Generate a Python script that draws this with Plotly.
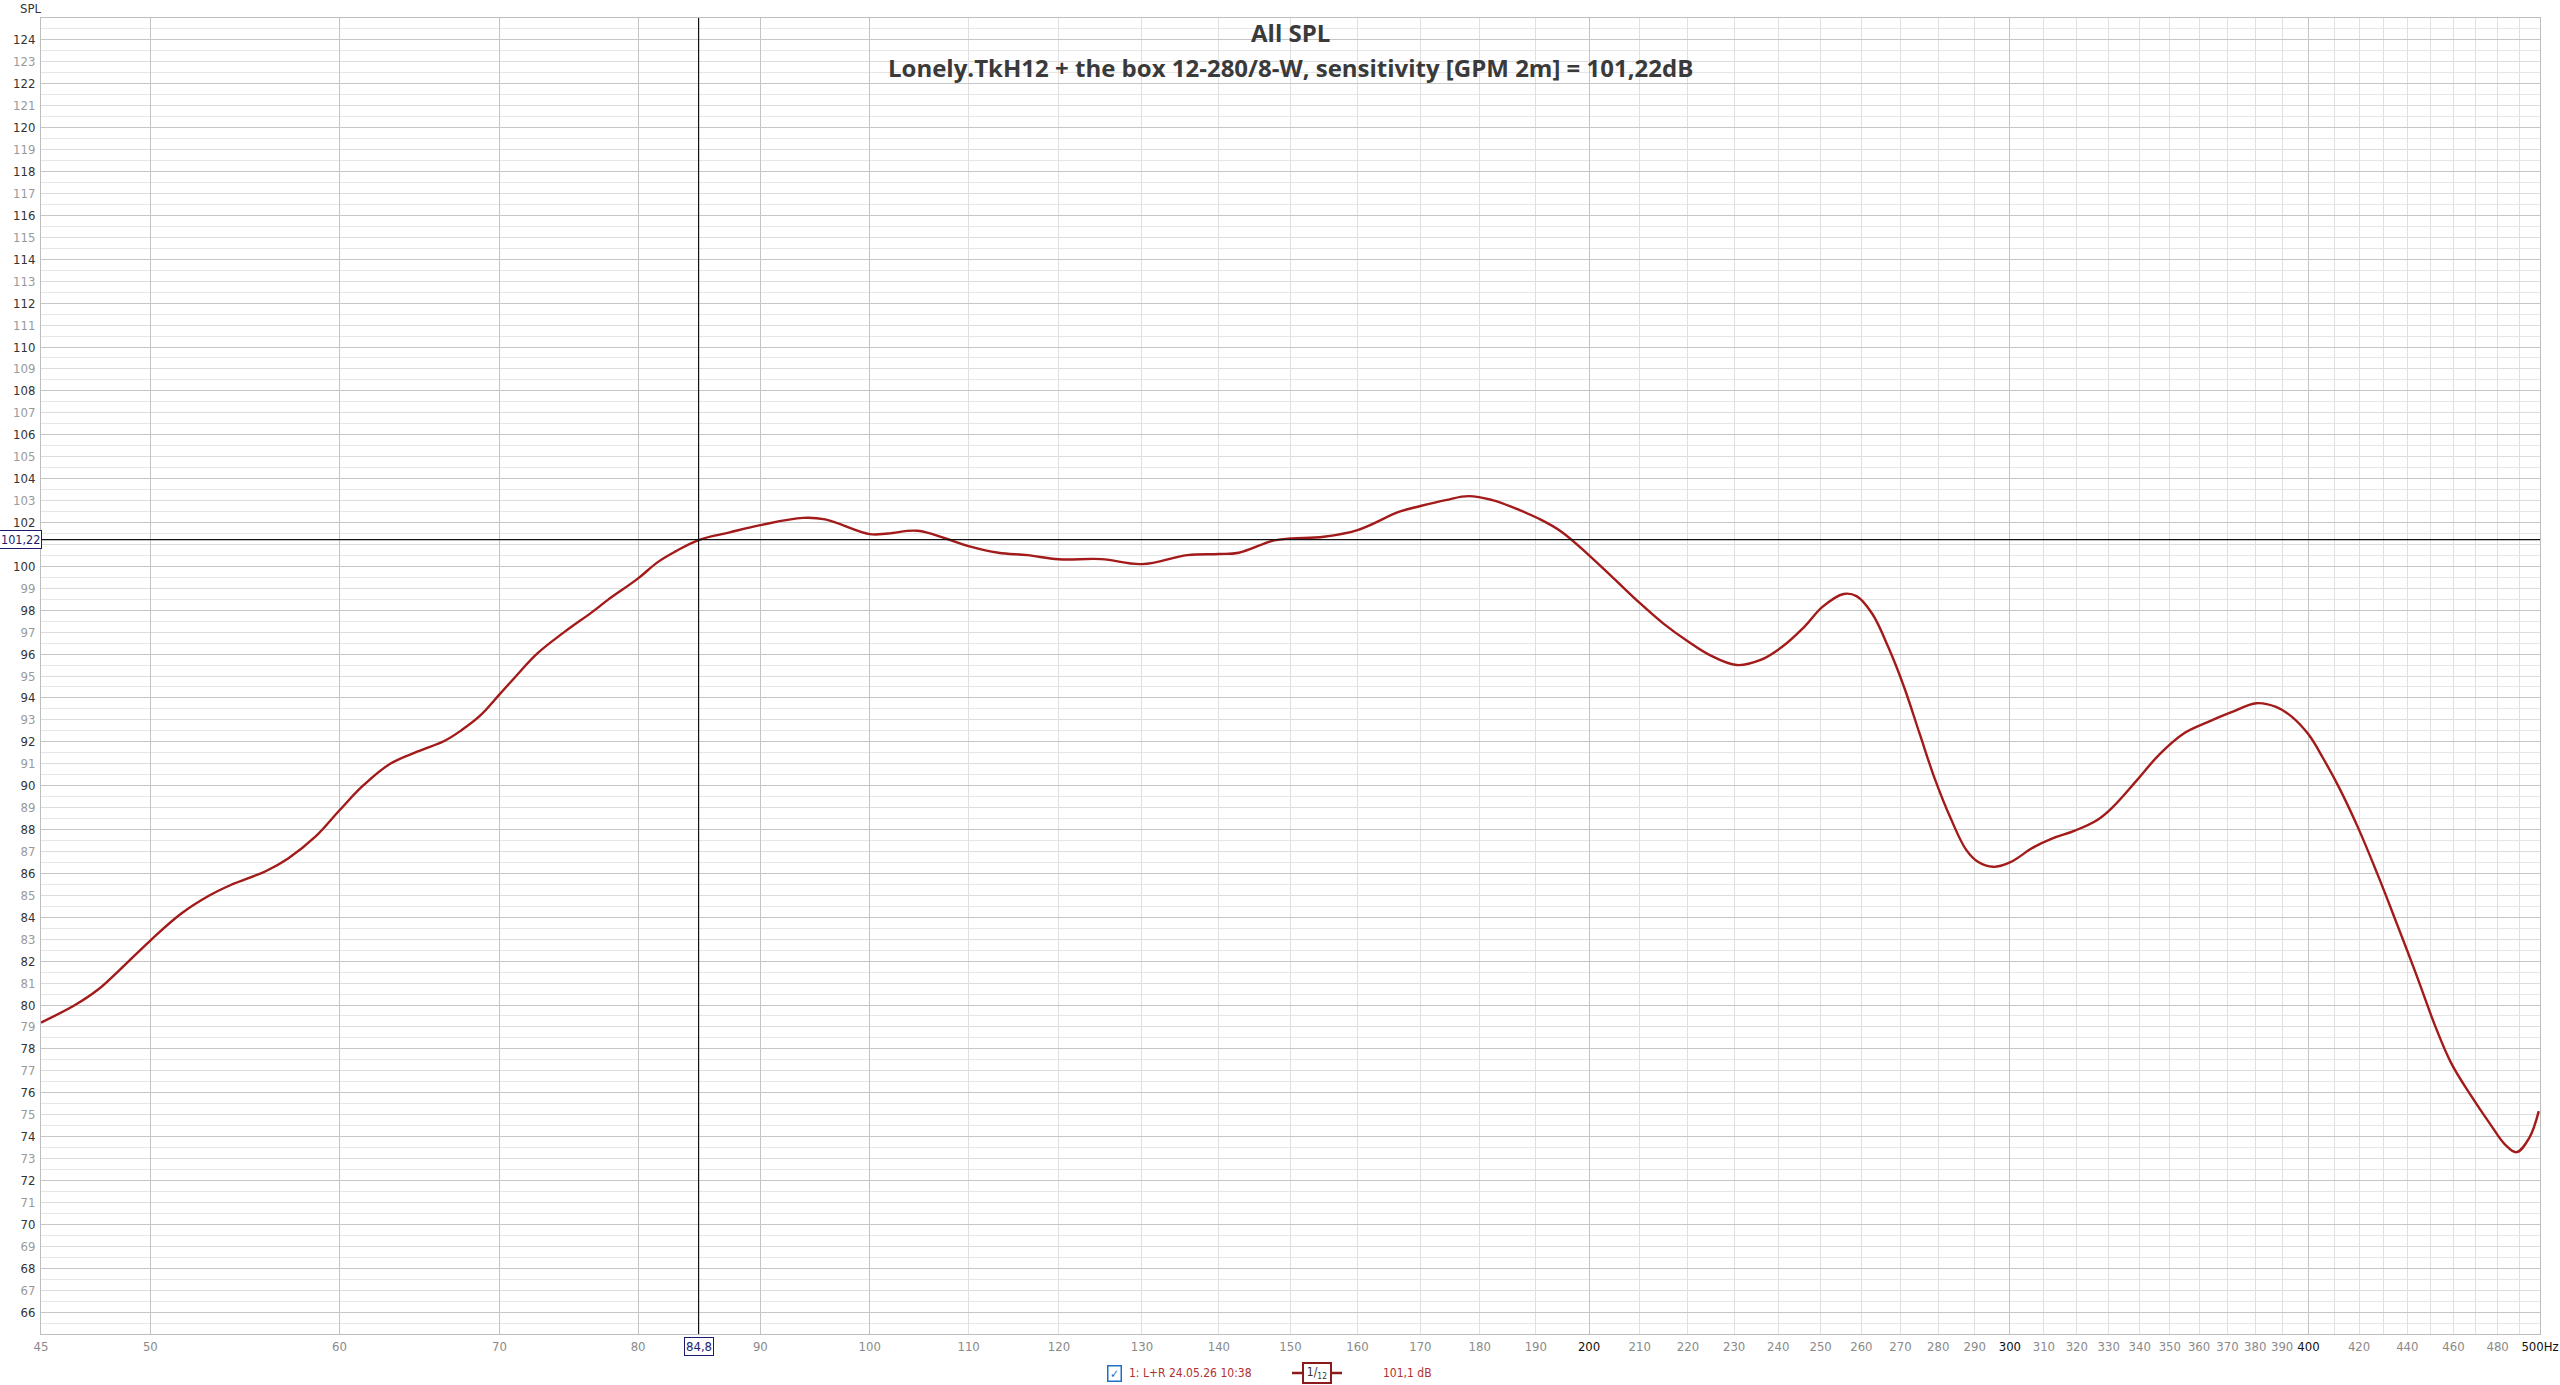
import numpy as np
import plotly.graph_objects as go

# ---------------- data ----------------
freq_hz = [45, 46.5, 47.5, 48.5, 50, 51.5, 52.9, 54.0, 55.9, 57.1, 58.6, 60, 61.4, 63.0, 64.7,
           66.4, 67.5, 68.7, 70, 71.1, 72.6, 74.5, 76.5, 77.7, 80, 81.5, 82.9, 84.8, 87.3, 90,
           93.8, 95.8, 100, 101.8, 104.7, 107.6, 110, 113.2, 116.4, 120, 125, 130, 135.8, 140,
           142.7, 147.5, 150, 154.9, 160, 166.6, 170, 174.2, 178.1, 182.2, 186.3, 190.4, 194.8,
           200, 204.8, 210.1, 214.8, 220.1, 224.7, 230.6, 235.8, 240.9, 246.1, 250.5, 255.6,
           258.8, 262.7, 266.8, 270.9, 275.0, 279.2, 283.4, 287.7, 290.9, 295.2, 300, 307, 312.6,
           319.4, 326.5, 331.1, 338.9, 346.6, 354.6, 363.2, 371.4, 380.5, 387.7, 393.6, 400,
           405.7, 411.7, 419.5, 427.4, 435.6, 443.7, 452.2, 459, 467.7, 476.5, 483.7, 488.8,
           494.8, 499.4]
spl_db = [79.2, 80.0, 80.67, 81.56, 82.94, 84.16, 84.98, 85.46, 86.11, 86.68, 87.66, 88.88, 90.02,
          91.0, 91.56, 92.05, 92.54, 93.19, 94.16, 94.98, 96.03, 97.0, 97.9, 98.47, 99.45, 100.18,
          100.67, 101.2, 101.54, 101.88, 102.21, 102.14, 101.47, 101.5, 101.62, 101.27, 100.92,
          100.62, 100.51, 100.32, 100.33, 100.1, 100.51, 100.56, 100.62, 101.17, 101.27, 101.35,
          101.65, 102.49, 102.75, 103.02, 103.2, 103.02, 102.64, 102.19, 101.57, 100.5, 99.45,
          98.31, 97.4, 96.56, 95.95, 95.5, 95.72, 96.33, 97.24, 98.16, 98.74, 98.64, 97.85, 96.33,
          94.51, 92.38, 90.25, 88.5, 87.06, 86.53, 86.3, 86.5, 87.2, 87.6, 87.95, 88.45, 89.0,
          90.22, 91.44, 92.37, 92.91, 93.35, 93.76, 93.59, 93.15, 92.34, 91.25, 89.98, 88.11, 86.0,
          83.7, 81.42, 78.98, 77.35, 75.89, 74.58, 73.61, 73.29, 73.93, 75.16]

x_tick_vals = [45, 50, 60, 70, 80, 90, 100, 110, 120, 130, 140, 150, 160, 170, 180, 190, 200,
               210, 220, 230, 240, 250, 260, 270, 280, 290, 300, 310, 320, 330, 340, 350, 360,
               370, 380, 390, 400, 420, 440, 460, 480, 500]
x_bold_ticks = [200, 300, 400, 500]
x_minor_grid = [410, 430, 450, 470, 490]
x_strong_grid = [50, 60, 70, 80, 90, 100, 200, 300, 400]
y_tick_vals = [v for v in range(66, 125) if v != 101]
y_half_grid = [v + 0.5 for v in range(65, 125)]
y_light_grid = list(range(66, 125))
y_strong_grid = list(range(66, 125, 2))

cursor_freq = 84.8
cursor_spl = 101.22
title_main = "All SPL"
title_sub = "Lonely.TkH12 + the box 12-280/8-W, sensitivity [GPM 2m] = 101,22dB"
legend_name = "1: L+R 24.05.26 10:38"
legend_value = "101,1 dB"

# ---------------- style ----------------
W, H = 2560, 1385
ML, MR, MT, MB = 41, 20, 18, 51
FONT = "Liberation Sans Narrow, DejaVu Sans Condensed, Liberation Sans, sans-serif"
CURVE = "#a31a1a"
NAVY = "#1b1b70"

def xtxt(v):
    lab = f"{v}Hz" if v == 500 else f"{v}"
    col = "#111111" if v in x_bold_ticks else "#8a8a8a"
    return f'<span style="color:{col}">{lab}</span>'

def ytxt(v):
    col = "#333333" if v % 2 == 0 else "#9a9a9a"
    return f'<span style="color:{col}">{v}</span>'

xr = [np.log10(45), np.log10(500)]
yr = [65, 125]

fig = go.Figure()
fig.add_trace(go.Scatter(x=freq_hz, y=spl_db, mode="lines",
                         line=dict(color=CURVE, width=2.4, shape="spline", smoothing=1.1),
                         hoverinfo="skip", showlegend=False, xaxis="x2", yaxis="y2"))

fig.update_layout(
    width=W, height=H,
    margin=dict(l=ML, r=MR, t=MT, b=MB, autoexpand=False),
    paper_bgcolor="white", plot_bgcolor="white",
    font=dict(family=FONT, size=13, color="#444"),
    showlegend=False,
    xaxis=dict(type="log", range=xr, tickmode="array", tickvals=x_tick_vals,
               ticktext=[xtxt(v) for v in x_tick_vals], showgrid=True, gridcolor="#e0e0e0",
               gridwidth=1, ticks="", showline=True, linecolor="#bdbdbd", mirror=True,
               zeroline=False, tickfont=dict(size=13), automargin=False,
               minor=dict(tickvals=x_minor_grid, showgrid=True, gridcolor="#e0e0e0", ticks="")),
    yaxis=dict(range=yr, tickmode="array", tickvals=y_tick_vals,
               ticktext=[ytxt(v) for v in y_tick_vals], showgrid=False,
               ticks="", showline=True, linecolor="#bdbdbd", mirror=True, zeroline=False,
               tickfont=dict(size=13), ticklabelstandoff=2, automargin=False,
               minor=dict(tickvals=y_half_grid, showgrid=True, gridcolor="#e6e6e6", ticks="")),
    xaxis2=dict(type="log", range=xr, overlaying="x", anchor="y2", tickmode="array",
                tickvals=x_strong_grid, showticklabels=False, showgrid=True, automargin=False,
                gridcolor="#c4c4c4", ticks="", showline=False, zeroline=False),
    yaxis2=dict(range=yr, overlaying="y", anchor="x2", tickmode="array", automargin=False,
                tickvals=y_strong_grid, showticklabels=False, showgrid=True,
                gridcolor="#c6c6c6", ticks="", showline=False, zeroline=False,
                minor=dict(tickvals=[v for v in y_light_grid if v % 2 == 1], showgrid=True,
                           gridcolor="#dcdcdc", ticks="")),
)

# cursor crosshair
fig.add_shape(type="line", xref="x2", yref="paper", x0=cursor_freq, x1=cursor_freq, y0=0, y1=1,
              line=dict(color="#111111", width=1.2), layer="above")
fig.add_shape(type="line", xref="paper", yref="y2", x0=0, x1=1, y0=cursor_spl, y1=cursor_spl,
              line=dict(color="#111111", width=1.2), layer="above")

plot_w = W - ML - MR
plot_h = H - MT - MB
def px(xpix):
    return (xpix - ML) / plot_w
def py(ypix):
    return (H - MB - ypix) / plot_h

def note(text, x, y, xref="paper", yref="paper", xanchor="center", **kw):
    fig.add_annotation(text=text, x=x, y=y, xref=xref, yref=yref, xanchor=xanchor,
                       yanchor="middle", showarrow=False, **kw)

note(f"{cursor_freq}".replace(".", ","), np.log10(cursor_freq), py(1346.5), xref="x",
     font=dict(size=13, color=NAVY), bgcolor="white", bordercolor=NAVY, borderwidth=1,
     borderpad=1)
note(f"{cursor_spl}".replace(".", ","), px(20), cursor_spl, yref="y",
     font=dict(size=12.5, color=NAVY), bgcolor="white", bordercolor=NAVY, borderwidth=1,
     borderpad=1)

# titles
TFONT = "Open Sans, Noto Sans, sans-serif"
note(f"<b>{title_main}</b>", 0.5, py(33), font=dict(size=24, color="#3a3a3a", family=TFONT))
note(f"<b>{title_sub}</b>", 0.5, py(67), font=dict(size=24, color="#3a3a3a", family=TFONT))
note("SPL", px(30), py(8), font=dict(size=13, color="#333"))

# legend row
note("✓", px(1114), py(1373), font=dict(size=12, color="#1e6fc8"), bgcolor="white",
     bordercolor="#1e6fc8", borderwidth=1.5, borderpad=0, width=12, height=14)
note(legend_name, px(1127), py(1373), xanchor="left", font=dict(size=12, color="#b03030"))
fig.add_shape(type="line", xref="paper", yref="paper", x0=px(1292), x1=px(1342),
              y0=py(1373), y1=py(1373), line=dict(color="#8b1a1a", width=2.5))
note("1/<sub>12</sub>", px(1317), py(1373), font=dict(size=12, color="#333"), bgcolor="white",
     bordercolor="#8b1a1a", borderwidth=2, borderpad=1, width=24, height=16)
note(legend_value, px(1381), py(1373), xanchor="left", font=dict(size=12, color="#b03030"))

fig.write_html("out.html", config={"displayModeBar": False},
               post_script="document.body.style.margin='0';document.body.style.overflow='hidden';")
